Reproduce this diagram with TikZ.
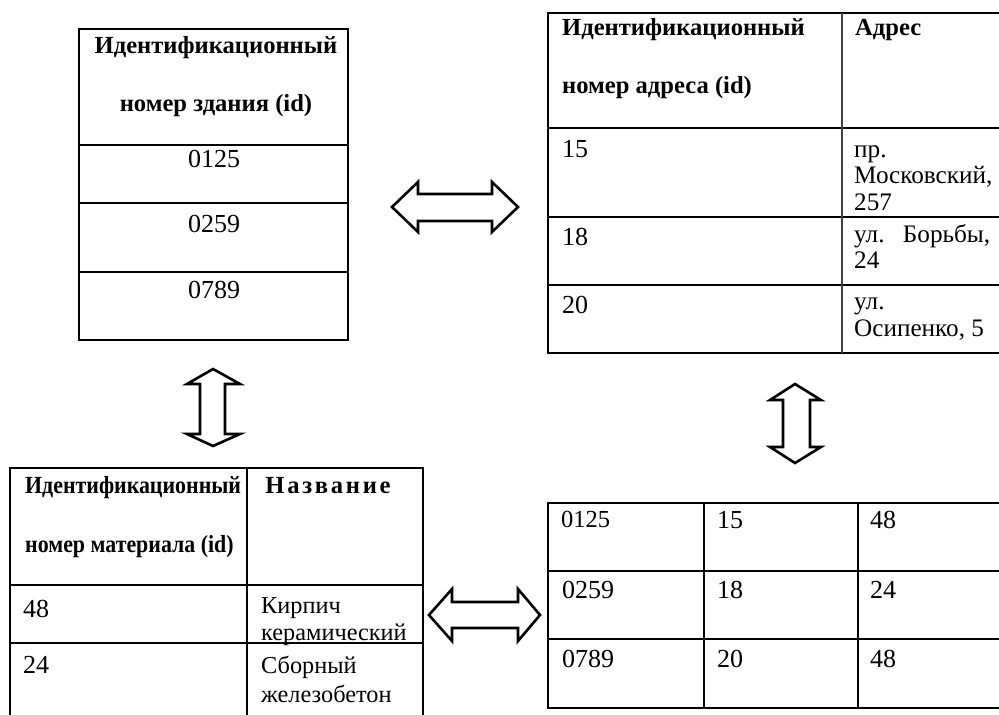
\documentclass[tikz,border=0pt]{standalone}
\usepackage{fontspec}
\usepackage{graphicx}
\setmainfont{Liberation Serif}
\newfontfamily\spacedfont[LetterSpace=11]{Liberation Serif}
\begin{document}
\begin{tikzpicture}[x=1pt,y=-1pt,
  tbl/.style={line width=1.8pt, black},
  arr/.style={line width=2.6pt, black, fill=white, line join=miter},
  lt/.style={anchor=base west, inner sep=0pt, font=\fontsize{26}{30}\selectfont},
  ct/.style={anchor=base, inner sep=0pt, font=\fontsize{26}{30}\selectfont},
  hl/.style={anchor=base west, inner sep=0pt, font=\fontsize{24.6}{28}\selectfont\bfseries},
  hc/.style={anchor=base, inner sep=0pt, font=\fontsize{24.6}{28}\selectfont\bfseries},
  sm/.style={anchor=base west, inner sep=0pt, font=\fontsize{25.2}{29}\selectfont},
  sm3/.style={anchor=base west, inner sep=0pt, font=\fontsize{24.3}{28}\selectfont}]
\useasboundingbox (0,0) rectangle (999,715);
\clip (0,0) rectangle (999,715);
\fill[white] (0,0) rectangle (999,715);

% ---- Table 1 (top left)
\draw[tbl] (79,29) rectangle (348,340);
\draw[tbl] (79,145) -- (348,145);
\draw[tbl] (79,203) -- (348,203);
\draw[tbl] (79,272) -- (348,272);
\node[hc] (t1h1) at (216,53) {Идентификационный};
\node[hc] (t1h2) at (216,111) {номер здания (id)};
\node[ct] (t1r1) at (214,167) {0125};
\node[ct] (t1r2) at (214,232) {0259};
\node[ct] (t1r3) at (214,298) {0789};

% ---- Table 2 (top right)
\draw[tbl] (1010,13) -- (548,13) -- (548,353) -- (1010,353);
\draw[tbl] (548,128) -- (1010,128);
\draw[tbl] (548,217) -- (1010,217);
\draw[tbl] (548,285) -- (1010,285);
\draw[line width=1.4pt, black!75] (842,13) -- (842,353);
\node[hl] (t2h1) at (562,35) {Идентификационный};
\node[hl] (t2h2) at (562,93) {номер адреса (id)};
\node[hl] (t2h3) at (855,35) {Адрес};
\node[lt] (t2a) at (562,157) {15};
\node[sm] (t2a1) at (854,157) {пр.};
\node[sm] (t2a2) at (854,183) {Московский,};
\node[sm] (t2a3) at (854,210) {257};
\node[lt] (t2b) at (562,245) {18};
\node[sm] (t2b1) at (854,242) {\hbox to 136pt{ул.\hfill Борьбы,}};
\node[sm] (t2b2) at (854,268) {24};
\node[lt] (t2c) at (562,313) {20};
\node[sm] (t2c1) at (854,309) {ул.};
\node[sm] (t2c2) at (854,336) {Осипенко, 5};

% ---- Table 3 (bottom left)
\draw[tbl] (10,725) -- (10,468) -- (423,468) -- (423,725);
\draw[tbl] (247,468) -- (247,725);
\draw[tbl] (10,585) -- (423,585);
\draw[tbl] (10,643) -- (423,643);
\node[hl] (t3h1) at (25,493) {\scalebox{0.89}[1]{Идентификационный}};
\node[hl] (t3h2) at (25,552) {\scalebox{0.89}[1]{номер материала (id)}};
\node[anchor=base, inner sep=0pt, font=\fontsize{24.6}{28}\selectfont\spacedfont\bfseries] (t3h3) at (328,493) {Название};
\node[lt] (t3a) at (23,617) {48};
\node[sm3] (t3a1) at (261,613) {Кирпич};
\node[sm3] (t3a2) at (261,640) {керамический};
\node[lt] (t3b) at (23,673) {24};
\node[sm3] (t3b1) at (261,673) {Сборный};
\node[sm3] (t3b2) at (261,702) {железобетон};

% ---- Table 4 (bottom right)
\draw[tbl] (1010,503) -- (548,503) -- (548,708) -- (1010,708);
\draw[tbl] (548,571) -- (1010,571);
\draw[tbl] (548,639) -- (1010,639);
\draw[tbl] (704,503) -- (704,708);
\draw[tbl] (858,503) -- (858,708);
\node[anchor=base west, inner sep=0pt, font=\fontsize{24.5}{28}\selectfont] (t4a1) at (561,527) {0125};
\node[lt] (t4a2) at (717,528) {15};
\node[lt] (t4a3) at (870,528) {48};
\node[lt] (t4b1) at (562,598) {0259};
\node[lt] (t4b2) at (717,598) {18};
\node[lt] (t4b3) at (870,598) {24};
\node[lt] (t4c1) at (562,667) {0789};
\node[lt] (t4c2) at (717,667) {20};
\node[lt] (t4c3) at (870,667) {48};

% ---- Double arrows
\draw[arr] (392,207) -- (418,182) -- (418,194) -- (492,194) -- (492,182) -- (518,207)
  -- (492,232) -- (492,221) -- (418,221) -- (418,232) -- cycle;
\draw[arr] (213,369) -- (240,384) -- (225,384) -- (225,434) -- (240,434) -- (213,446)
  -- (187,434) -- (200,434) -- (200,384) -- (187,384) -- cycle;
\draw[arr] (429,615) -- (452,589) -- (452,602) -- (518,602) -- (518,589) -- (540,615)
  -- (518,641) -- (518,628) -- (452,628) -- (452,641) -- cycle;
\draw[arr] (795,384) -- (821,400) -- (810,400) -- (810,447) -- (821,447) -- (795,463)
  -- (770,447) -- (783,447) -- (783,400) -- (770,400) -- cycle;
\end{tikzpicture}
\end{document}
